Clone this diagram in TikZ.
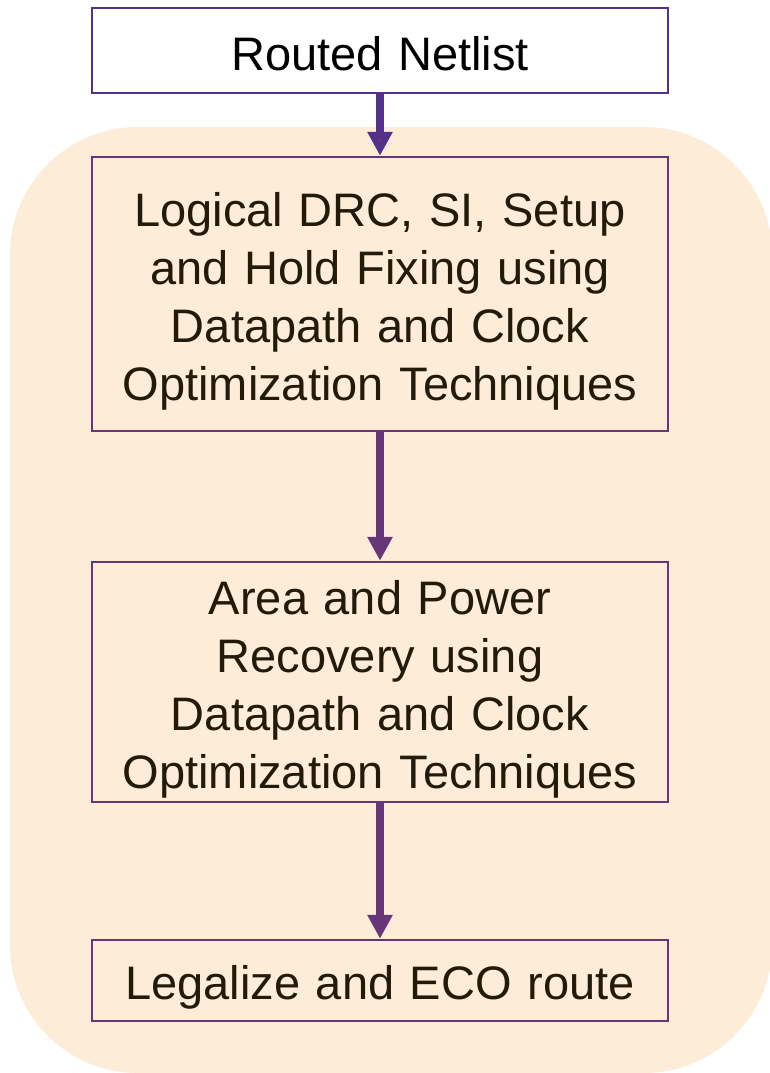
\documentclass[tikz,border=0pt]{standalone}
\usepackage{fontspec}
\setmainfont{Liberation Sans}
\usetikzlibrary{arrows.meta}
\definecolor{panel}{HTML}{FCECD8}
\definecolor{frame}{HTML}{663678}
\definecolor{topframe}{HTML}{54308A}
\definecolor{ink}{HTML}{231A0A}
\tikzset{
  stage/.style={draw=frame, line width=2.5pt, fill=panel,
    minimum width=576pt, inner sep=0pt},
  caption/.style={text=ink, text width=560pt, align=center, inner sep=0pt,
    font=\fontsize{47pt}{58pt}\selectfont, yshift=-7pt},
  flow/.style={draw=frame, line width=8pt,
    -{Triangle[width=24pt,length=24pt,fill=frame]}, shorten >=0pt}
}
\begin{document}
\begin{tikzpicture}[x=1pt,y=-1pt]
\useasboundingbox (0,0) rectangle (770,1073);
% shaded optimization region
\begin{scope}
\clip (0,0) rectangle (770,1073);
\fill[panel, rounded corners=128pt] (10,127) rectangle (772,1073);
\end{scope}
% flow stages
\node[stage, fill=white, draw=topframe, minimum height=85pt,
  label={[caption, text=black, yshift=4pt]center:Routed Netlist}] (net) at (380,50.5) {};
\node[stage, minimum height=274pt,
  label={[caption]center:Logical DRC, SI, Setup\\and Hold Fixing using\\Datapath and Clock\\Optimization Techniques}] (fix) at (380,294) {};
\node[stage, minimum height=240pt,
  label={[caption]center:Area and Power\\Recovery using\\Datapath and Clock\\Optimization Techniques}] (rec) at (380,682) {};
\node[stage, minimum height=81pt,
  label={[caption]center:Legalize and ECO route}] (eco) at (380,980.5) {};
% connectors
\draw[flow, draw=topframe] (net.south) -- (fix.north);
\draw[flow] (fix.south) -- (rec.north);
\draw[flow] (rec.south) -- (eco.north);
\end{tikzpicture}
\end{document}
